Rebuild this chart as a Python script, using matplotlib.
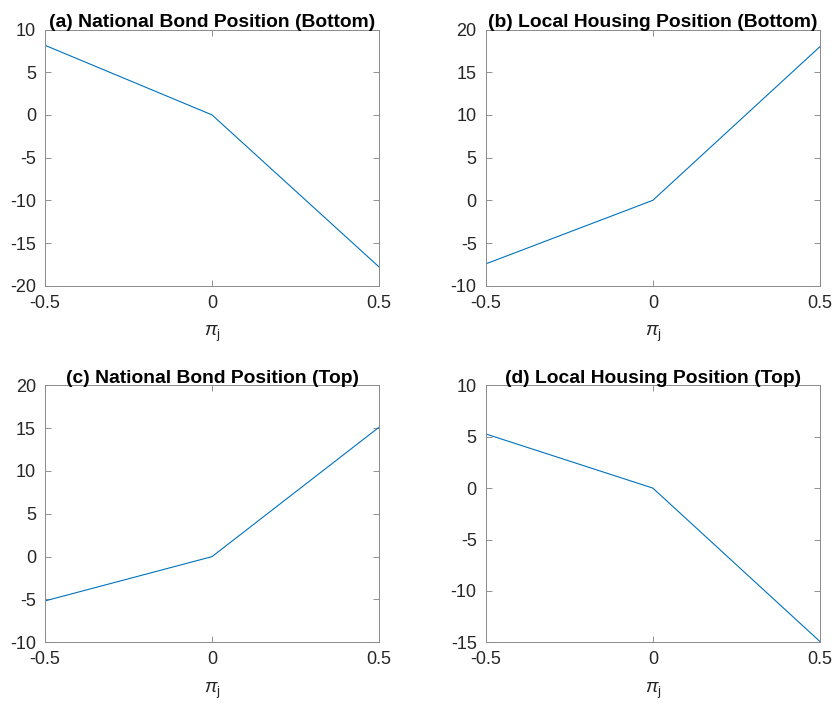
import matplotlib
matplotlib.use("Agg")
import matplotlib.pyplot as plt

x = [-0.5, 0.0, 0.5]
titles = ["(a) National Bond Position (Bottom)",
          "(b) Local Housing Position (Bottom)",
          "(c) National Bond Position (Top)",
          "(d) Local Housing Position (Top)"]
bond_bottom = [8.15, 0.0, -17.8]
housing_bottom = [-7.45, 0.0, 18.0]
bond_top = [-5.17, 0.0, 15.1]
housing_top = [5.27, 0.0, -14.93]
series = [bond_bottom, housing_bottom, bond_top, housing_top]
ylims = [(-20, 10), (-10, 20), (-10, 20), (-15, 10)]
yticks = [[-20, -15, -10, -5, 0, 5, 10],
          [-10, -5, 0, 5, 10, 15, 20],
          [-10, -5, 0, 5, 10, 15, 20],
          [-15, -10, -5, 0, 5, 10]]
xticks = [-0.5, 0, 0.5]
xtick_labels = ["-0.5", "0", "0.5"]

plt.rcParams['font.family'] = ['Liberation Sans', 'DejaVu Sans']
plt.rcParams['mathtext.fontset'] = 'custom'
plt.rcParams['mathtext.rm'] = 'Liberation Sans'
plt.rcParams['mathtext.it'] = 'Liberation Sans:italic'

W, H = 834, 707
fig = plt.figure(figsize=(W / 100, H / 100), dpi=100)
# axes boxes in pixels: (left, top, right, bottom)
boxes = [(45, 29.5, 379, 285.7), (485.7, 29.5, 820, 285.7),
         (45, 385.3, 379, 642.3), (485.7, 385.3, 820, 642.3)]
line_color = '#0072BD'
axis_color = '#262626'
for i in range(4):
    l, t, r, b = boxes[i]
    ax = fig.add_axes([l / W, 1 - b / H, (r - l) / W, (b - t) / H])
    ax.plot(x, series[i], color=line_color, linewidth=0.8)
    ax.set_xlim(-0.5, 0.5)
    ax.set_ylim(*ylims[i])
    ax.set_xticks(xticks)
    ax.set_xticklabels(xtick_labels)
    ax.set_yticks(yticks[i])
    ax.set_yticklabels([str(v) for v in yticks[i]])
    ax.tick_params(direction='in', top=True, right=True, length=4, width=0.6,
                   labelsize=13, colors='#808080', labelcolor=axis_color)
    ax.tick_params(axis='x', pad=6.5)
    ax.tick_params(axis='y', pad=6.5)
    for sp in ax.spines.values():
        sp.set_color('#8a8a8a')
        sp.set_linewidth(0.7)
    ax.set_title(titles[i], fontsize=13.9, fontweight='bold', color='black', pad=1.5)
    ax.set_xlabel(r'$\pi_{\mathrm{j}}$', fontsize=13.5, color=axis_color, labelpad=9)

fig.savefig('out.png', dpi=100, facecolor='white')
